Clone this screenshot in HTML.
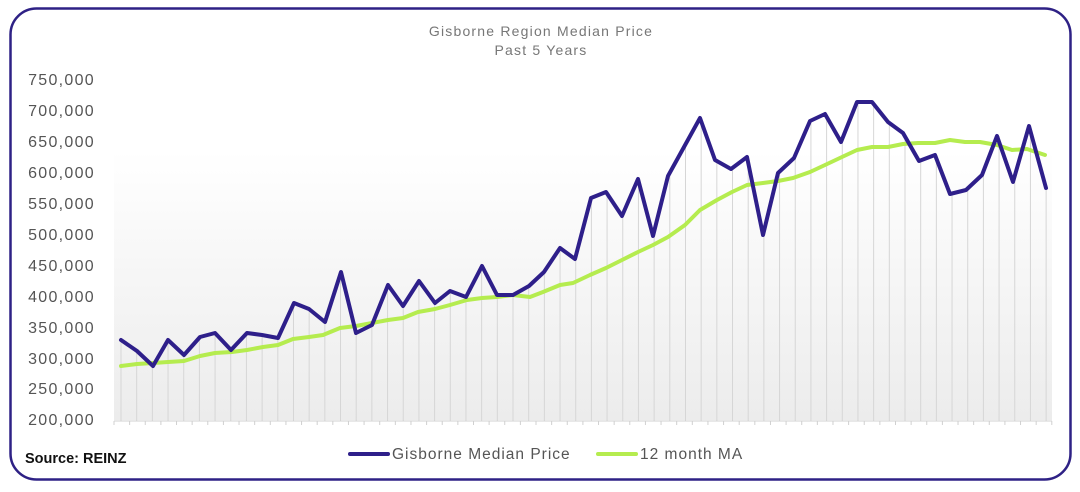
<!DOCTYPE html>
<html><head><meta charset="utf-8"><style>
html,body{margin:0;padding:0;background:#fff;}
svg{display:block;font-family:"Liberation Sans",sans-serif;}
</style></head><body>
<svg width="1080" height="492" viewBox="0 0 1080 492" xmlns="http://www.w3.org/2000/svg">
<defs>
<linearGradient id="g" x1="0" y1="0" x2="0" y2="1">
<stop offset="0" stop-color="#ffffff"/><stop offset="1" stop-color="#ececec"/>
</linearGradient>
</defs>
<rect x="10.5" y="8.5" width="1060" height="471" rx="26" fill="#fff" stroke="#2e2185" stroke-width="2.5"/>
<text x="541" y="36" text-anchor="middle" font-size="14" fill="#777" letter-spacing="1.2">Gisborne Region Median Price</text>
<text x="541" y="55" text-anchor="middle" font-size="14" fill="#777" letter-spacing="1.2">Past 5 Years</text>
<rect x="114" y="150" width="938" height="270" fill="url(#g)"/>
<g font-size="16" fill="#555" text-anchor="end" letter-spacing="1.3">
<text x="95" y="85">750,000</text><text x="95" y="116">700,000</text><text x="95" y="147">650,000</text>
<text x="95" y="178">600,000</text><text x="95" y="209">550,000</text><text x="95" y="240">500,000</text>
<text x="95" y="271">450,000</text><text x="95" y="302">400,000</text><text x="95" y="333">350,000</text>
<text x="95" y="364">300,000</text><text x="95" y="394">250,000</text><text x="95" y="425">200,000</text>
</g>
<g id="grid" stroke="#d6d6d6" stroke-width="1"></g>
<line x1="114" y1="421" x2="1052" y2="421" stroke="#d0d0d0"/>
<g id="ticks" stroke="#d0d0d0"></g>
<polyline id="ma" fill="none" stroke="#b5ec4f" stroke-width="4" stroke-linejoin="round" stroke-linecap="round"
points="121,366 137,364 153,363 168,362 184,361 200,356 215,353 232,352 247,350 263,347 278,345 293,339 309,337 323,335 340,328 356,326 372,323 388,320 403,318 418,312 435,309 450,305 467,300 482,298 497,297 513,295 530,297 543,292 560,285 573,283 590,275 606,268 622,260 638,252 653,245 668,237 685,225 700,210 717,200 732,192 747,185 763,183 778,181 793,178 810,172 825,165 842,157 857,150 872,147 888,147 903,144 918,143 935,143 950,140 965,142 980,142 997,145 1012,150 1027,149 1045,155"/>
<polyline id="mp" fill="none" stroke="#2e1f8a" stroke-width="4" stroke-linejoin="round" stroke-linecap="round"
points="121,340 137,351 153,366 168,340 184,355 200,337 215,333 231,350 247,333 262,335 278,338 294,303 309,309 325,322 341,272 356,333 372,325 388,285 403,306 419,281 435,303 450,291 466,297 482,266 497,295 513,295 529,286 544,272 560,248 575,259 591,198 606,192 622,216 638,179 653,236 668,176 684,147 700,118 715,160 731,169 747,157 763,235 778,173 794,158 810,121 825,114 841,142 857,102 872,102 888,122 903,133 919,161 935,155 950,194 966,190 982,175 997,136 1013,182 1029,126 1046,188"/>
<text x="25" y="463" font-size="14.5" font-weight="bold" fill="#111">Source: REINZ</text>
<line x1="350" y1="454" x2="388" y2="454" stroke="#2e1f8a" stroke-width="4" stroke-linecap="round"/>
<text x="392" y="459" font-size="15.5" fill="#555" letter-spacing="1">Gisborne Median Price</text>
<line x1="598" y1="454" x2="636" y2="454" stroke="#b5ec4f" stroke-width="4" stroke-linecap="round"/>
<text x="640" y="459" font-size="15.5" fill="#555" letter-spacing="1">12 month MA</text>
<script>
var g=document.getElementById('grid'),t=document.getElementById('ticks'),ns='http://www.w3.org/2000/svg';
var mp=document.getElementById('mp').getAttribute('points').trim().split(/\s+/);
for(var i=0;i<60;i++){var x=121+i*15.68,y=+mp[i].split(',')[1];
var l=document.createElementNS(ns,'line');l.setAttribute('x1',x);l.setAttribute('x2',x);l.setAttribute('y1',y);l.setAttribute('y2',421);g.appendChild(l);}
for(var i=0;i<=60;i++){var x=114+i*15.63;var l=document.createElementNS(ns,'line');l.setAttribute('x1',x);l.setAttribute('x2',x);l.setAttribute('y1',421);l.setAttribute('y2',425);t.appendChild(l);}
</script>
</svg>
</body></html>
